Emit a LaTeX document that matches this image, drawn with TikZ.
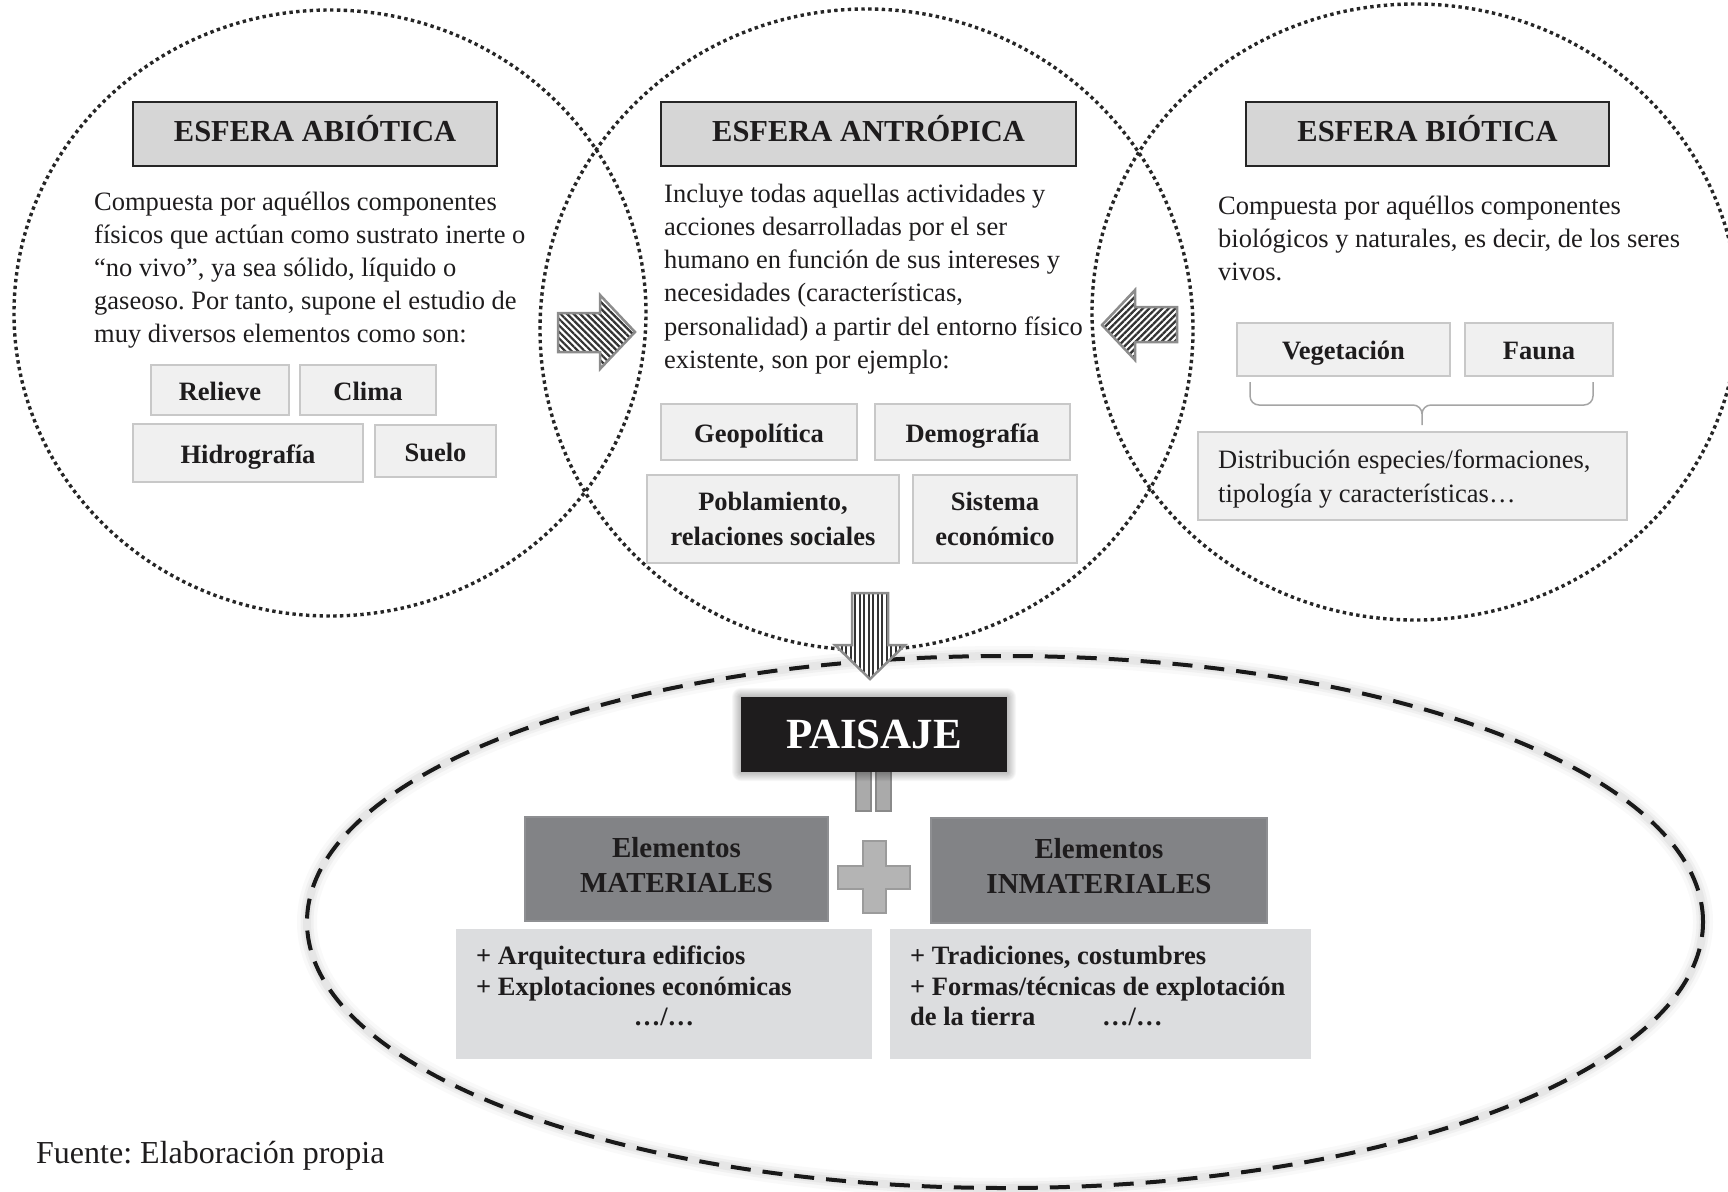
\documentclass[tikz,border=0pt]{standalone}
\usepackage{fontspec}
\setmainfont{Liberation Serif}
\usetikzlibrary{patterns.meta}
\frenchspacing

\definecolor{hdrfill}{RGB}{214,214,214}
\definecolor{itemfill}{RGB}{240,240,240}
\definecolor{itemline}{RGB}{200,200,200}
\definecolor{darkfill}{RGB}{130,131,134}
\definecolor{lightfill}{RGB}{220,221,223}
\definecolor{arrowline}{RGB}{140,140,140}
\definecolor{plusfill}{RGB}{180,180,180}
\definecolor{plusline}{RGB}{155,155,155}
\definecolor{barfill}{RGB}{170,170,170}
\definecolor{barline}{RGB}{138,138,138}
\definecolor{inkblack}{RGB}{30,28,29}
\definecolor{bracegray}{RGB}{165,165,165}

\begin{document}
\begin{tikzpicture}[x=1pt,y=-1pt,
  every node/.style={inner sep=0pt},
  sphere/.style={draw=black!85, line width=3.4pt, dash pattern=on 3.4pt off 3.4pt},
  hdr/.style={draw=black!85, line width=2pt, fill=hdrfill, text=inkblack,
    font=\fontsize{30.5}{36}\selectfont\bfseries, text height=21pt, text depth=7pt},
  item/.style={draw=itemline, line width=2pt, fill=itemfill, text=inkblack,
    font=\fontsize{26.5}{33}\selectfont\bfseries, text height=22pt, text depth=2pt},
  itemtwo/.style={draw=itemline, line width=2pt, fill=itemfill, text=inkblack,
    font=\fontsize{26.5}{35}\selectfont\bfseries, align=center},
  body/.style={anchor=base west, text=inkblack, font=\fontsize{26.5}{33}\selectfont},
  bodybf/.style={anchor=base west, text=inkblack, font=\fontsize{26.5}{33}\selectfont\bfseries},
  darkbox/.style={fill=darkfill, draw=darkfill!90!white, line width=1.5pt},
  lightbox/.style={fill=lightfill},
  elem/.style={anchor=base, text=inkblack, font=\fontsize{29}{35}\selectfont\bfseries},
  blockarrow/.style={draw=arrowline, line width=2.5pt, preaction={fill=white},
    pattern color=black!80},
]
\useasboundingbox (0,0) rectangle (1728,1191);
\clip (0,0) rectangle (1728,1191);

% soft halo round the landscape ellipse
\foreach \w/\o in {20/0.025,13/0.035,8/0.045}
  \draw[line width=\w pt, black, opacity=\o] (1005,922) ellipse [x radius=698pt, y radius=266pt];

% the three spheres
\draw[sphere] (330,313) ellipse [x radius=316pt, y radius=303pt];
\draw[sphere] (866.5,329.5) ellipse [x radius=326.5pt, y radius=320.5pt];
\draw[sphere] (1415,312) ellipse [x radius=323pt, y radius=308pt];

% landscape ellipse
\draw[black!90, line width=4pt, dash pattern=on 20pt off 12pt] (1005,922) ellipse [x radius=698pt, y radius=266pt];

% ---------- abiotic sphere ----------
\node[hdr, minimum width=364pt, minimum height=64pt] (hAbio) at (315,134) {ESFERA ABIÓTICA};
\foreach \t [count=\i] in {
  {Compuesta por aquéllos componentes},
  {físicos que actúan como sustrato inerte o},
  {“no vivo”, ya sea sólido, líquido o},
  {gaseoso. Por tanto, supone el estudio de},
  {muy diversos elementos como son:}}
  \node[body] (abio\i) at (94,{210+33*(\i-1)}) {\t};
\node[item, minimum width=138pt, minimum height=50pt] (relieve) at (220,390) {Relieve};
\node[item, minimum width=136pt, minimum height=50pt] (clima) at (368,390) {Clima};
\node[item, minimum width=230pt, minimum height=58pt] (hidro) at (248,453) {Hidrografía};
\node[item, minimum width=121pt, minimum height=52pt] (suelo) at (435.5,451) {Suelo};

% ---------- anthropic sphere ----------
\node[hdr, minimum width=415pt, minimum height=64pt] (hAntro) at (868.5,134) {ESFERA ANTRÓPICA};
\foreach \t [count=\i] in {
  {Incluye todas aquellas actividades y},
  {acciones desarrolladas por el ser},
  {humano en función de sus intereses y},
  {necesidades (características,},
  {personalidad) a partir del entorno físico},
  {existente, son por ejemplo:}}
  \node[body] (antro\i) at (664,{202+33.3*(\i-1)}) {\t};
\node[item, minimum width=196pt, minimum height=56pt] (geopol) at (759,432) {Geopolítica};
\node[item, minimum width=195pt, minimum height=56pt] (demog) at (972.5,432) {Demografía};
\node[itemtwo, minimum width=252pt, minimum height=88pt] (pobla) at (773,519) {Poblamiento,\\relaciones sociales};
\node[itemtwo, minimum width=164pt, minimum height=88pt] (sistema) at (995,519) {Sistema\\económico};

% ---------- biotic sphere ----------
\node[hdr, minimum width=363pt, minimum height=64pt] (hBio) at (1427.5,134) {ESFERA BIÓTICA};
\foreach \t [count=\i] in {
  {Compuesta por aquéllos componentes},
  {biológicos y naturales, es decir, de los seres},
  {vivos.}}
  \node[body] (bio\i) at (1218,{214+33*(\i-1)}) {\t};
\node[item, minimum width=213pt, minimum height=53pt] (veget) at (1343.5,349.5) {Vegetación};
\node[item, minimum width=148pt, minimum height=53pt] (fauna) at (1539,349.5) {Fauna};
\draw[bracegray, line width=1.5pt]
  (1250,382) -- (1250,396) to[out=-90,in=180] (1259,405) -- (1413,405)
  to[out=0,in=90] (1422,414) -- (1422,425);
\draw[bracegray, line width=1.5pt]
  (1593,382) -- (1593,396) to[out=-90,in=0] (1584,405) -- (1431,405)
  to[out=180,in=90] (1422,414);
\node[draw=itemline, line width=2pt, fill=itemfill, minimum width=429pt, minimum height=88pt] (distrib) at (1412.5,476) {};
\node[body] (distrib1) at (1218,468) {Distribución especies/formaciones,};
\node[body] (distrib2) at (1218,502) {tipología y características…};

% ---------- arrows between spheres ----------
\draw[blockarrow, pattern={Lines[angle=-45,distance=4.6pt,line width=2.2pt]}]
  (558,313) -- (600,313) -- (600,295) -- (635,332) -- (600,369) -- (600,352) -- (558,352) -- cycle;
\draw[blockarrow, pattern={Lines[angle=45,distance=4.6pt,line width=2.2pt]}]
  (1177,307) -- (1135,307) -- (1135,290) -- (1102,325) -- (1135,360) -- (1135,342) -- (1177,342) -- cycle;
\draw[blockarrow, pattern={Lines[angle=90,distance=4.5pt,line width=2pt]}]
  (852,593) -- (888,593) -- (888,645) -- (905,645) -- (870,679) -- (835,645) -- (852,645) -- cycle;

% ---------- landscape ----------
\fill[barfill, draw=barline, line width=1.5pt] (856,762) rectangle (871,811);
\fill[barfill, draw=barline, line width=1.5pt] (876,762) rectangle (891,811);
\foreach \g in {1,...,9}
  \fill[black, opacity=0.03, rounded corners=\g pt] (741-\g,697-\g) rectangle (1007+\g,772+\g);
\node[fill=inkblack, minimum width=266pt, minimum height=75pt] (paisaje) at (874,734.5) {};
\node[anchor=base, text=white, font=\fontsize{43}{50}\selectfont\bfseries] (paisajeTxt) at (874,748) {PAISAJE};

\node[darkbox, minimum width=303pt, minimum height=104pt] (mat) at (676.5,869) {};
\node[elem] (mat1) at (676.5,857) {Elementos};
\node[elem] (mat2) at (676.5,892) {MATERIALES};
\node[darkbox, minimum width=336pt, minimum height=105pt] (inmat) at (1099,870.5) {};
\node[elem] (inmat1) at (1099,858) {Elementos};
\node[elem] (inmat2) at (1099,893) {INMATERIALES};

\filldraw[fill=plusfill, draw=plusline, line width=2pt]
  (862.5,841) -- (885.5,841) -- (885.5,865.5) -- (910,865.5) -- (910,888.5) -- (885.5,888.5)
  -- (885.5,913) -- (862.5,913) -- (862.5,888.5) -- (838,888.5) -- (838,865.5) -- (862.5,865.5) -- cycle;

\node[lightbox, minimum width=416pt, minimum height=130pt] (matList) at (664,994) {};
\node[bodybf] (matA) at (476,964) {+ Arquitectura edificios};
\node[bodybf] (matB) at (476,995) {+ Explotaciones económicas};
\node[bodybf, anchor=base] (matC) at (664,1025) {…/…};

\node[lightbox, minimum width=421pt, minimum height=130pt] (inmatList) at (1100.5,994) {};
\node[bodybf] (inmatA) at (910,964) {+ Tradiciones, costumbres};
\node[bodybf] (inmatB) at (910,995) {+ Formas/técnicas de explotación};
\node[bodybf] (inmatC) at (910,1025) {de la tierra};
\node[bodybf] (inmatD) at (1102,1025) {…/…};

% source line
\node[anchor=base west, text=inkblack, font=\fontsize{32}{38}\selectfont] (fuente) at (36,1163) {Fuente: Elaboración propia};
\end{tikzpicture}
\end{document}
